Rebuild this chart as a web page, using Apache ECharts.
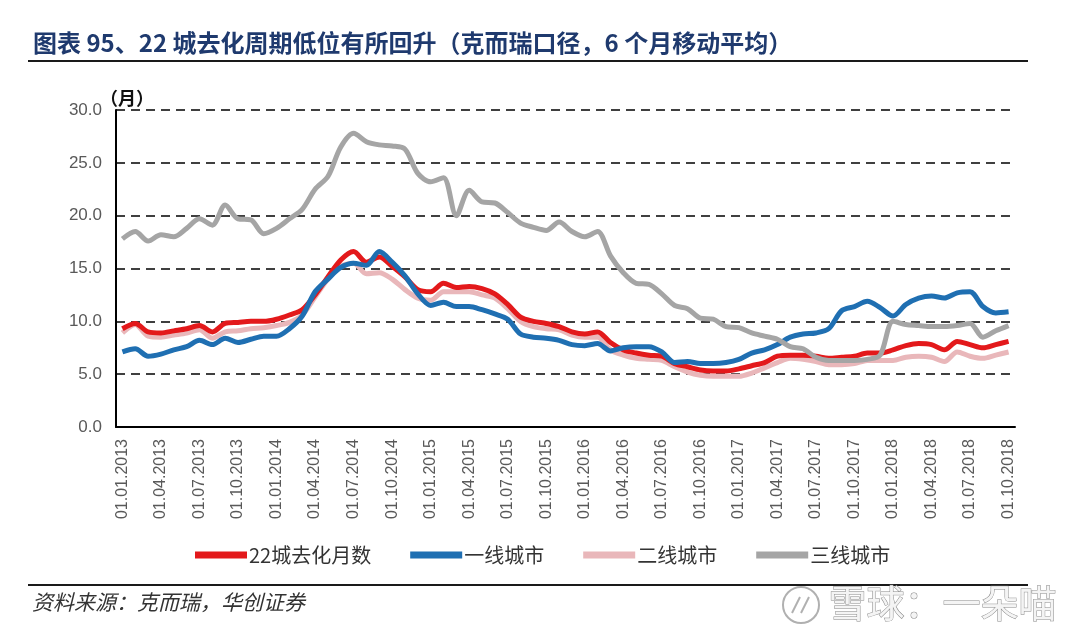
<!DOCTYPE html>
<html>
<head>
<meta charset="utf-8">
<script src="https://cdn.jsdelivr.net/npm/echarts@6/dist/echarts.min.js"></script>
<style>
html,body{margin:0;padding:0;background:#fff;}
#c{width:1080px;height:636px;}
</style>
</head>
<body>
<div id="c"></div>
<script>
// ---- data ----
const years = [2013, 2014, 2015, 2016, 2017, 2018];
const categories = [];
for (const y of years) {
  for (let m = 1; m <= 12; m++) {
    if (y === 2018 && m > 10) break;
    categories.push('01.' + String(m).padStart(2, '0') + '.' + y);
  }
}
const seriesNames = ['22城去化月数', '一线城市', '二线城市', '三线城市'];
const city22 = [9.3,9.8,9.0,8.9,9.1,9.3,9.6,9.0,9.8,9.9,10.0,10.0,
  10.2,10.6,11.1,12.5,14.2,15.8,16.6,15.6,16.1,15.2,14.2,13.0,
  12.8,13.6,13.2,13.3,13.1,12.6,11.6,10.4,10.0,9.8,9.5,9.0,
  8.8,9.0,8.0,7.3,7.0,6.8,6.7,6.0,5.7,5.4,5.3,5.3,
  5.5,5.8,6.1,6.7,6.8,6.8,6.7,6.5,6.6,6.7,7.0,7.0,
  7.3,7.7,7.9,7.8,7.3,8.1,7.8,7.5,7.8,8.1];
const tier1 = [7.1,7.4,6.7,6.9,7.3,7.6,8.2,7.8,8.4,8.0,8.3,8.6,
  8.6,9.3,10.5,12.8,14.0,15.1,15.5,15.3,16.6,15.6,14.3,12.6,
  11.5,11.8,11.4,11.4,11.1,10.7,10.2,8.8,8.5,8.4,8.2,7.8,
  7.7,7.9,7.2,7.5,7.6,7.6,7.1,6.1,6.2,6.0,6.0,6.1,
  6.4,7.0,7.3,7.8,8.5,8.8,8.9,9.3,11.0,11.4,11.9,11.3,
  10.5,11.6,12.2,12.4,12.2,12.7,12.8,11.4,10.8,10.9];
const tier2 = [8.9,9.7,8.6,8.5,8.7,8.9,9.2,8.4,9.0,9.1,9.3,9.4,
  9.6,9.9,10.6,12.3,14.0,15.2,15.5,14.5,14.6,14.0,13.0,12.2,
  12.0,12.8,12.8,12.8,12.5,12.2,11.2,10.0,9.5,9.3,9.2,8.7,
  8.5,8.5,7.3,6.8,6.5,6.4,6.3,5.7,5.2,4.9,4.8,4.8,
  4.8,5.1,5.6,6.1,6.5,6.4,6.2,5.9,5.9,6.0,6.3,6.3,
  6.3,6.6,6.7,6.6,6.2,7.1,6.7,6.5,6.8,7.1];
const tier3 = [17.8,18.5,17.6,18.2,18.0,18.8,19.7,19.1,21.0,19.7,19.6,18.3,
  18.8,19.7,20.6,22.5,23.7,26.5,27.8,27.0,26.7,26.6,26.3,24.0,
  23.2,23.6,20.0,22.4,21.3,21.2,20.3,19.3,18.9,18.6,19.4,18.5,
  18.0,18.5,16.2,14.6,13.6,13.5,12.6,11.5,11.2,10.3,10.2,9.5,
  9.4,8.9,8.6,8.3,7.6,7.4,6.6,6.3,6.3,6.3,6.4,6.8,
  10.0,9.7,9.6,9.5,9.5,9.6,9.8,8.5,9.1,9.6];
const yTicks = [0, 5, 10, 15, 20, 25, 30];

const colors = {'22城去化月数':'#e3191b','一线城市':'#1f6fb2','二线城市':'#e9b7ba','三线城市':'#a5a5a5'};
const zOrder = {'22城去化月数':3,'一线城市':4,'二线城市':2,'三线城市':5};
const dataMap = {'22城去化月数':city22,'一线城市':tier1,'二线城市':tier2,'三线城市':tier3};

const chart = echarts.init(document.getElementById('c'), null, {renderer:'canvas'});
const cjk = '"Noto Sans CJK SC", sans-serif';
chart.setOption({
  backgroundColor:'#ffffff',
  animation:false,
  title:{
    text:'图表 95、22 城去化周期低位有所回升（克而瑞口径，6 个月移动平均）',
    left:28, top:26,
    textStyle:{color:'#1f3a6e', fontSize:24, fontWeight:'bold', fontFamily:cjk}
  },
  graphic:[
    {type:'line', shape:{x1:28,y1:61,x2:1028,y2:61}, style:{stroke:'#1a1a1a', lineWidth:2}},
    {type:'line', shape:{x1:28,y1:585,x2:1028,y2:585}, style:{stroke:'#1a1a1a', lineWidth:2}},
    {type:'text', left:100, top:89, style:{text:'（月）', fill:'#111', font:'bold 18px "Noto Sans CJK SC"'}},
    {type:'text', left:32, top:592, style:{text:'资料来源：克而瑞，华创证券', fill:'#333333', font:'italic 21px "Noto Sans CJK SC"'}},
    {type:'circle', shape:{cx:801, cy:605, r:18}, style:{fill:'none', stroke:'#b0b0b0', lineWidth:2}},
    {type:'line', shape:{x1:792,y1:613,x2:800,y2:597}, style:{stroke:'#b0b0b0', lineWidth:2}},
    {type:'line', shape:{x1:801,y1:613,x2:809,y2:597}, style:{stroke:'#b0b0b0', lineWidth:2}},
    {type:'text', left:828, top:583, style:{text:'雪球：一朵喵', fill:'#f4f4f4', stroke:'#8a8a8a', lineWidth:1, font:'38px "Noto Sans CJK SC"'}}
  ],
  legend:{
    data:seriesNames,
    left:190, top:540,
    icon:'rect', itemWidth:52, itemHeight:7, itemGap:39,
    textStyle:{color:'#333333', fontSize:20, fontFamily:cjk, padding:[0,0,0,-3]}
  },
  grid:{left:116, right:65, top:110, bottom:209, containLabel:false},
  xAxis:{
    type:'category', data:categories, boundaryGap:true,
    axisLine:{show:true, lineStyle:{color:'#000', width:2}},
    axisTick:{show:false},
    axisLabel:{interval:2, rotate:90, color:'#595959', fontSize:16, fontFamily:'"Liberation Sans", Arial, sans-serif', margin:12},
    splitLine:{show:false}
  },
  yAxis:{
    type:'value', min:yTicks[0], max:yTicks[yTicks.length-1], interval:5,
    axisLine:{show:true, lineStyle:{color:'#000', width:2}},
    axisTick:{show:false},
    axisLabel:{color:'#595959', fontSize:17, fontFamily:'"Liberation Sans", Arial, sans-serif', margin:14, formatter:v=>v.toFixed(1)},
    splitLine:{show:true, lineStyle:{color:'#000', width:1.5, type:[9,6]}}
  },
  series:seriesNames.map(n=>({
    name:n, type:'line', data:dataMap[n], showSymbol:false, symbol:'none',
    smooth:0.3, z:zOrder[n],
    lineStyle:{color:colors[n], width:5},
    itemStyle:{color:colors[n]}
  }))
});
</script>
</body>
</html>
